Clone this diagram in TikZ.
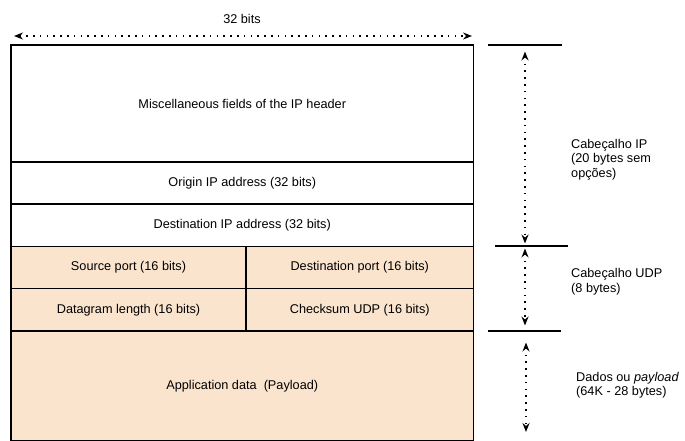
\documentclass[tikz,border=0pt]{standalone}
\usepackage{fontspec}
\setmainfont{Liberation Sans}
\usetikzlibrary{arrows.meta}
\definecolor{udpfill}{RGB}{251,228,206}
\tikzset{
	field/.style={draw, line width=1.6pt, rectangle, inner sep=0pt, font=\fontsize{12.7}{15}\selectfont},
	udpfield/.style={field, fill=udpfill},
	sidelabel/.style={anchor=west, align=left, inner sep=0pt, font=\fontsize{12.7}{14.5}\selectfont},
	span/.style={dash pattern=on 1.6pt off 5.2pt, line width=1.6pt, {Stealth[length=9pt,width=7pt,inset=3pt]}-{Stealth[length=9pt,width=7pt,inset=3pt]}},
	tick/.style={line width=1.6pt}
}

\begin{document}
\begin{tikzpicture}[x=1pt, y=-1pt]
		%%%%% START %%%%%
		\path[use as bounding box, clip] (0, 0) rectangle (685, 441);
		
		% width of a row
		\node[inner sep=0pt, font=\fontsize{12.7}{15}\selectfont] (bits) at (242, 19) {32 bits};
		\coordinate (wl) at (14, 36);
		\coordinate (wr) at (472, 36);
		\draw[span] (wl) -- (wr);
		
		% IP header
		\node[field, minimum width=462.5pt, minimum height=117pt] (misc) at (242.25, 103.5) {Miscellaneous fields of the IP header};
		\node[field, minimum width=462.5pt, minimum height=42pt] (orig) at (242.25, 183) {Origin IP address (32 bits)};
		\node[field, minimum width=462.5pt, minimum height=42.5pt] (dest) at (242.25, 225.25) {Destination IP address (32 bits)};
		
		% UDP header
		\node[udpfield, minimum width=235pt, minimum height=42pt] (sport) at (128.5, 267.5) {Source port (16 bits)};
		\node[udpfield, minimum width=227.5pt, minimum height=42pt] (dport) at (359.75, 267.5) {Destination port (16 bits)};
		\node[udpfield, minimum width=235pt, minimum height=42.5pt] (dlen) at (128.5, 309.75) {Datagram length (16 bits)};
		\node[udpfield, minimum width=227.5pt, minimum height=42.5pt] (csum) at (359.75, 309.75) {Checksum UDP (16 bits)};
		
		% payload
		\node[udpfield, minimum width=462.5pt, minimum height=110pt] (data) at (242.25, 386) {Application data~ (Payload)};
		
		% section marks
		\draw[tick] (488, 45) -- (562, 45);
		\draw[tick] (495, 246) -- (568, 246);
		\draw[tick] (488, 331) -- (561, 331);
		
		\coordinate (ipt) at (525, 51.5);
		\coordinate (ipb) at (525, 243.5);
		\coordinate (udpt) at (525, 248.5);
		\coordinate (udpb) at (525, 325.5);
		\coordinate (plt) at (526, 342.5);
		\coordinate (plb) at (526, 432);
		\draw[span] (ipt) -- (ipb);
		\draw[span] (udpt) -- (udpb);
		\draw[span] (plt) -- (plb);
		
		\node[sidelabel] (iplabel) at (571, 159.5) {Cabeçalho IP\\(20 bytes sem\\opções)};
		\node[sidelabel] (udplabel) at (571, 281.5) {Cabeçalho UDP\\(8 bytes)};
		\node[sidelabel] (pllabel) at (576, 385) {Dados ou \textit{payload}\\(64K - 28 bytes)};
		
		%%%%% END %%%%%
	\end{tikzpicture}
\end{document}
